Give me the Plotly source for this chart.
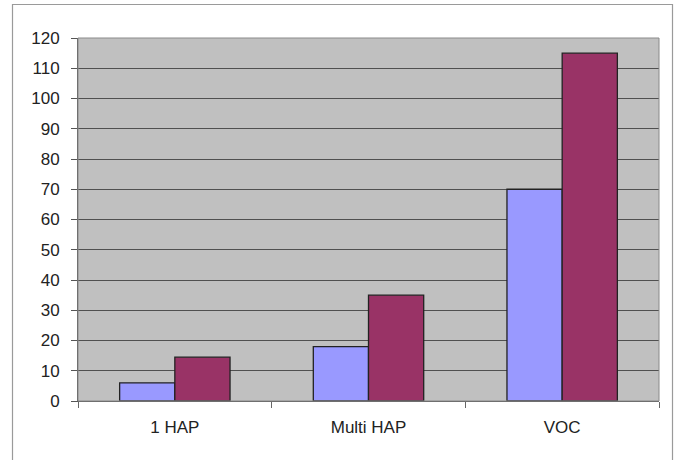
import plotly.graph_objects as go

categories = ["1 HAP", "Multi HAP", "VOC"]
series_a = [6, 18, 70]
series_b = [14.5, 35, 115]
y_ticks = list(range(0, 121, 10))

fig = go.Figure()
fig.add_trace(go.Bar(x=categories, y=series_a, marker=dict(color="#9999FF", line=dict(color="#222222", width=1.3))))
fig.add_trace(go.Bar(x=categories, y=series_b, marker=dict(color="#993366", line=dict(color="#222222", width=1.3))))

W, H = 677, 460
L, R, T, B = 78, 18, 38, 59
pw, ph = W - L - R, H - T - B

def px(x):
    return (x - L) / pw

def py(y):
    return (H - B - y) / ph

fig.update_layout(
    width=W, height=H,
    margin=dict(l=L, r=R, t=T, b=B),
    paper_bgcolor="white",
    plot_bgcolor="#C0C0C0",
    showlegend=False,
    barmode="group",
    bargap=0.43,
    bargroupgap=0,
    font=dict(family="Liberation Sans, Arial, sans-serif", size=17, color="#222222"),
    xaxis=dict(
        type="category",
        tickson="boundaries",
        ticks="outside", ticklen=6, tickcolor="#666666",
        showline=True, linecolor="#555555", linewidth=1,
        showgrid=False,
        ticklabelstandoff=11,
    ),
    yaxis=dict(
        range=[0, 120],
        tickvals=y_ticks,
        ticks="outside", ticklen=6, tickcolor="#555555",
        showline=True, linecolor="#555555", linewidth=1,
        showgrid=True, gridcolor="#505050", gridwidth=1.2,
        zeroline=False,
        ticklabelstandoff=8,
    ),
    shapes=[
        dict(type="rect", xref="paper", yref="paper", x0=0, x1=1, y0=0, y1=1,
             line=dict(color="#8a8a8a", width=1), layer="above"),
        dict(type="rect", xref="paper", yref="paper",
             x0=px(12.5), x1=px(672.5), y0=py(470), y1=py(4.5),
             line=dict(color="#9a9a9a", width=1.2)),
    ],
)

fig.write_html("out.html")
